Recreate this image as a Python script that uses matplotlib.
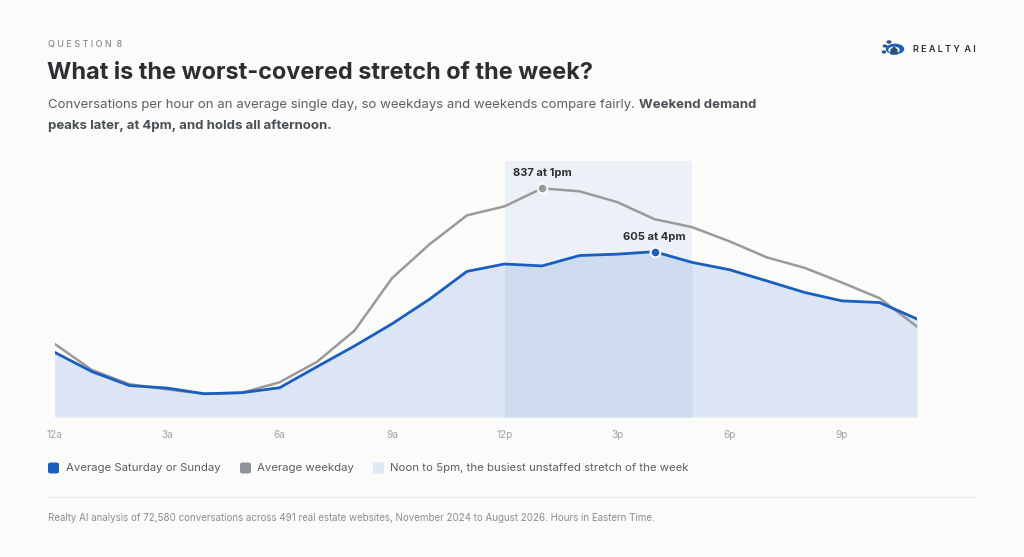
import matplotlib
matplotlib.use("Agg")
import matplotlib.pyplot as plt
from matplotlib.patches import FancyBboxPatch, Circle, Polygon
import numpy as np

hours = list(range(24))
weekend = [237, 166, 115, 106, 85, 89, 107, 184, 260, 341, 431, 533,
           560, 553, 591, 596, 605, 566, 539, 498, 456, 425, 419, 359]
weekday = [268, 172, 120, 101, 85, 89, 127, 202, 316, 508, 632, 738,
           771, 837, 826, 787, 724, 695, 643, 584, 546, 492, 435, 331]
tick_pos = [0, 3, 6, 9, 12, 15, 18, 21]
tick_labels = ["12a", "3a", "6a", "9a", "12p", "3p", "6p", "9p"]
band = (12, 17)
legend_labels = ["Average Saturday or Sunday", "Average weekday",
                 "Noon to 5pm, the busiest unstaffed stretch of the week"]

BG = "#fbfbf9"
BLUE = "#1a5fbf"
GRAY = "#9a9a9a"
FILL = "#dbe5f3"
FILL_BAND = "#cfdcef"
BAND = "#ecf1f8"
DARK = "#2b2f33"

plt.rcParams['font.family'] = ['Inter', 'DejaVu Sans']

W, H = 1024, 557
fig = plt.figure(figsize=(W / 100, H / 100), dpi=100, facecolor=BG)

def fx(px):
    return px / W

def fy(py):
    return 1 - py / H

x0, x1 = 54.5, 917
y0, y1 = 417, 161
ax = fig.add_axes([fx(x0), fy(y0), fx(x1) - fx(x0), (y0 - y1) / H])
ax.set_facecolor(BG)
ymax = 937
ax.set_xlim(0, 23)
ax.set_ylim(0, ymax)

ax.axvspan(band[0], band[1], color=BAND, zorder=0, lw=0)
h = np.array(hours)
we = np.array(weekend)
ax.fill_between(h, 0, we, color=FILL, lw=0, zorder=1)
m = (h >= band[0]) & (h <= band[1])
ax.fill_between(h[m], 0, we[m], color=FILL_BAND, lw=0, zorder=1.5)

ax.plot(h, weekday, color=GRAY, lw=1.8, zorder=3, solid_joinstyle='round')
ax.plot(h, weekend, color=BLUE, lw=2.0, zorder=4, solid_joinstyle='round')

i_wd = int(np.argmax(weekday))
i_we = int(np.argmax(weekend))
ax.plot(h[i_wd], weekday[i_wd], 'o', ms=7, color=GRAY, mec=BG, mew=1.5, zorder=5)
ax.plot(h[i_we], weekend[i_we], 'o', ms=7, color=BLUE, mec=BG, mew=1.5, zorder=5)

def hour_label(i):
    hh = i % 12 or 12
    return f"{hh}{'am' if i < 12 else 'pm'}"

ax.annotate(f"{weekday[i_wd]} at {hour_label(i_wd)}", (h[i_wd], weekday[i_wd]),
            xytext=(0, 7.5), textcoords='offset points', ha='center', va='bottom',
            fontsize=8, fontweight='bold', color=DARK, zorder=6)
ax.annotate(f"{weekend[i_we]} at {hour_label(i_we)}", (h[i_we], weekend[i_we]),
            xytext=(0, 7), textcoords='offset points', ha='center', va='bottom',
            fontsize=8, fontweight='bold', color=DARK, zorder=6)

ax.set_xticks(tick_pos)
ax.set_xticklabels(tick_labels)
ax.set_yticks([])
ax.tick_params(axis='x', length=0, pad=9, labelsize=7.2, labelcolor="#a3a3a3")
for s in ax.spines.values():
    s.set_visible(False)

# Header text
fig.text(fx(48), fy(44), "Q U E S T I O N  8", fontsize=6.5, color="#8a8a8a",
         va='center', ha='left', fontweight='medium')
fig.text(fx(47), fy(73), "What is the worst-covered stretch of the week?",
         fontsize=16.9, fontweight='bold', color=DARK, va='center', ha='left')
t1 = fig.text(fx(48), fy(105),
              "Conversations per hour on an average single day, so weekdays and weekends compare fairly. ",
              fontsize=9.5, color="#5b6066", va='center', ha='left')
fig.canvas.draw()
bb = t1.get_window_extent()
fig.text(bb.x1 / W, fy(105), "Weekend demand", fontsize=9.5, fontweight='bold',
         color="#4a4f55", va='center', ha='left')
fig.text(fx(48), fy(126), "peaks later, at 4pm, and holds all afternoon.",
         fontsize=9.5, fontweight='bold', color="#4a4f55", va='center', ha='left')

# Logo
lx, ly = 895, 49
fig.patches.append(Circle((fx(lx), fy(ly)), 8.5 / W, transform=fig.transFigure,
                          color=BLUE, zorder=2))
fig.patches.append(Circle((fx(lx - 1), fy(ly + 1)), 5 / W, transform=fig.transFigure,
                          color=BG, zorder=3))
fig.patches.append(Polygon([(fx(lx - 4), fy(ly + 5)), (fx(lx - 4), fy(ly + 1)),
                            (fx(lx - 1), fy(ly - 2)), (fx(lx + 2), fy(ly + 1)),
                            (fx(lx + 2), fy(ly + 5))], closed=True,
                           transform=fig.transFigure, color="#2f4f7f", zorder=4))
for dx, dy, r in [(-10, -3, 1.6), (-11, 3, 1.6), (-6, -7, 1.8)]:
    fig.patches.append(Circle((fx(lx + dx), fy(ly + dy)), r / W, transform=fig.transFigure,
                              color="#2f4f7f", zorder=3))
fig.text(fx(913), fy(50), "R E A L T Y  A I", fontsize=6.6, fontweight='semibold',
         color=DARK, va='center', ha='left')

# Legend
leg_y = 468
items = [(48, 66, BLUE, legend_labels[0]),
         (240, 257, "#8f9296", legend_labels[1]),
         (373, 390, "#dfe8f5", legend_labels[2])]
for sx, tx, c, lab in items:
    p = FancyBboxPatch((fx(sx), fy(leg_y + 5.5)), 11 / W, 11 / H,
                       boxstyle="round,pad=0,rounding_size=0.003",
                       transform=fig.transFigure, color=c, lw=0)
    fig.patches.append(p)
    fig.text(fx(tx), fy(leg_y), lab, fontsize=8.2, color="#5b6066",
             va='center', ha='left')

# separator
fig.add_artist(plt.Line2D([fx(48), fx(976)], [fy(497), fy(497)],
                          transform=fig.transFigure, color="#e6e6e4", lw=0.8))
fig.text(fx(48), fy(518),
         "Realty AI analysis of 72,580 conversations across 491 real estate websites, November 2024 to August 2026. Hours in Eastern Time.",
         fontsize=7.0, color="#8a8d90", va='center', ha='left')

fig.savefig("out.png", dpi=100, facecolor=BG)
